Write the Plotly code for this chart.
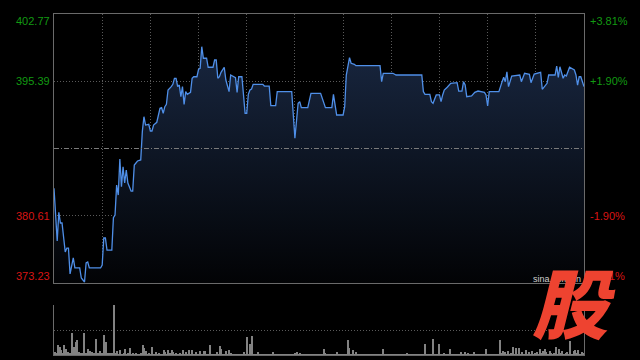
import plotly.graph_objects as go

# ---- data (HK intraday, minutes since 09:30, lunch collapsed: 150 = 12:00/13:00) ----
minutes = [0, 2, 3, 4, 5, 6, 7, 8, 9, 10, 11, 12, 13, 16, 17, 19, 20, 21, 22, 29,
           30, 31, 32, 33, 36, 37, 38, 39, 40, 41, 42, 43, 44, 45, 46, 48, 49, 50, 52, 54,
           55, 56, 57, 58, 59, 60, 61, 62, 64, 66, 67, 68, 69, 70, 71, 73, 74, 75, 76, 77,
           78, 79, 80, 81, 82, 83, 85, 86, 87, 89, 90, 91, 92, 93, 95, 96, 99, 100, 101, 102,
           103, 104, 106, 107, 109, 110, 112, 113, 114, 115, 117, 119, 120, 121, 122, 123, 124, 130, 131, 134,
           135, 138, 139, 148, 150, 151, 152, 153, 154, 158, 160, 166, 168, 169, 173, 174, 176, 180, 181, 182,
           184, 185, 187, 188, 203, 204, 205, 211, 213, 229, 230, 231, 234, 235, 236, 238, 240, 241, 242, 243,
           245, 247, 251, 252, 254, 255, 256, 257, 260, 262, 264, 268, 269, 270, 271, 277, 279, 280, 281, 282,
           283, 285, 290, 291, 293, 296, 297, 299, 303, 304, 307, 308, 312, 313, 314, 315, 317, 318, 319, 321,
           324, 325, 326, 327, 328, 330]
prices = [383.63, 377.84, 380.99, 379.82, 379.82, 378.17, 376.64, 377.07, 377.07, 374.22,
          375.21, 375.98, 374.88, 374.88, 373.78, 373.34, 375.43, 375.54, 374.88, 374.88,
          375.21, 378.17, 378.17, 376.85, 376.85, 380.40, 380.70, 383.99, 382.89, 386.85,
          383.81, 386.00, 384.21, 385.64, 384.21, 383.33, 383.33, 386.19, 386.63, 386.74,
          389.85, 391.49, 390.58, 390.58, 390.66, 389.92, 389.92, 390.58, 390.88, 392.41,
          392.48, 391.87, 392.59, 392.85, 394.42, 394.79, 395.05, 395.71, 395.71, 394.79,
          394.97, 393.69, 394.79, 392.85, 394.24, 393.95, 394.17, 395.71, 395.88, 395.88,
          396.70, 396.81, 399.18, 397.91, 397.91, 396.92, 396.92, 397.72, 397.72, 395.71,
          395.88, 396.37, 396.92, 395.52, 394.24, 396.07, 395.88, 395.78, 394.17, 395.88,
          395.88, 391.87, 391.87, 393.95, 394.42, 394.53, 395.05, 395.05, 394.86, 394.86,
          392.70, 392.70, 394.24, 394.24, 389.12, 390.94, 392.96, 393.14, 392.48, 392.48,
          394.06, 394.06, 392.85, 392.48, 392.48, 393.95, 391.68, 391.68, 392.59, 396.07,
          397.97, 397.36, 397.25, 397.09, 397.09, 395.34, 396.26, 396.26, 396.07, 396.07,
          394.24, 393.95, 393.95, 393.14, 392.96, 393.88, 393.88, 393.14, 393.88, 394.42,
          394.75, 395.16, 395.23, 394.31, 394.31, 395.34, 394.97, 393.69, 393.77, 394.17,
          394.31, 394.17, 393.88, 392.67, 394.24, 394.24, 395.34, 395.82, 395.34, 396.43,
          394.79, 395.96, 396.07, 395.34, 396.26, 396.15, 395.23, 396.18, 396.37, 394.50,
          395.16, 396.07, 396.07, 397.06, 395.82, 396.98, 395.71, 396.07, 395.96, 396.92,
          396.62, 396.07, 394.97, 395.88, 395.88, 394.79]

vol_minutes = list(range(331))
volume = [3, 2, 10, 8, 5, 2, 10, 6, 3, 2,
          2, 22, 8, 13, 15, 3, 2, 2, 22, 2,
          2, 6, 4, 3, 2, 2, 16, 2, 4, 2,
          2, 20, 13, 2, 2, 2, 2, 60, 2, 4,
          1, 5, 1, 2, 6, 1, 2, 7, 1, 2,
          1, 2, 1, 1, 2, 10, 7, 4, 1, 2,
          1, 8, 1, 3, 1, 2, 1, 1, 5, 3,
          1, 5, 2, 5, 3, 1, 2, 1, 2, 1,
          5, 1, 3, 1, 5, 1, 5, 1, 3, 1,
          1, 4, 1, 4, 4, 1, 1, 10, 1, 1,
          1, 3, 1, 9, 6, 1, 1, 4, 1, 5,
          2, 1, 1, 1, 1, 1, 1, 1, 3, 1,
          18, 1, 11, 19, 1, 1, 1, 3, 1, 1,
          1, 1, 1, 1, 1, 1, 3, 1, 1, 1,
          1, 1, 1, 1, 1, 1, 1, 1, 1, 1,
          2, 3, 1, 2, 1, 1, 1, 1, 1, 1,
          1, 1, 1, 1, 1, 1, 1, 1, 6, 2,
          1, 1, 1, 1, 1, 1, 3, 1, 1, 1,
          1, 1, 1, 15, 7, 1, 5, 1, 3, 1,
          1, 1, 1, 1, 1, 1, 1, 1, 1, 1,
          1, 1, 1, 1, 1, 6, 1, 1, 1, 1,
          1, 1, 1, 1, 1, 1, 1, 1, 1, 1,
          2, 1, 1, 1, 1, 1, 1, 1, 1, 1,
          1, 11, 1, 1, 1, 1, 16, 1, 1, 1,
          11, 1, 1, 2, 1, 1, 1, 6, 1, 1,
          1, 1, 1, 1, 3, 1, 3, 1, 2, 1,
          1, 1, 3, 1, 1, 1, 1, 1, 1, 6,
          1, 1, 1, 1, 1, 1, 1, 1, 15, 2,
          4, 3, 1, 4, 1, 2, 8, 1, 7, 1,
          7, 1, 3, 1, 5, 1, 3, 1, 4, 1,
          2, 3, 1, 6, 2, 4, 6, 3, 1, 4,
          2, 1, 2, 8, 1, 6, 2, 4, 1, 2,
          3, 1, 14, 1, 4, 5, 2, 5, 1, 3,
          2]

prev_close = 388.00
price_ticks = [402.77, 395.39, 380.61, 373.23]
pct_ticks = ["+3.81%", "+1.90%", "-1.90%", "-3.81%"]
x_grid = [30, 60, 90, 120, 150, 180, 210, 240, 270, 300]

GREEN = "#129a12"
RED = "#d81414"
GRID = "#5a5a5a"
FRAME = "#6a6a6a"

W, H = 640, 360
x0p, x1p = 54 / W, 584 / W
main_dom = [1 - 283 / H, 1 - 14 / H]
vol_dom = [1 - 355 / H, 1 - 305 / H]

fig = go.Figure()
fig.add_trace(go.Scatter(
    x=minutes, y=prices, mode="lines",
    line=dict(color="#4f8fe8", width=1.3),
    fill="tozeroy",
    fillgradient=dict(type="vertical",
                      colorscale=[[0, "#020305"], [1, "#18263f"]],
                      start=price_ticks[-1], stop=max(prices)),
    xaxis="x", yaxis="y", hoverinfo="skip", showlegend=False))

fig.add_trace(go.Bar(
    x=vol_minutes, y=volume,
    marker=dict(color="#828282", line=dict(width=0)),
    xaxis="x2", yaxis="y2", hoverinfo="skip", showlegend=False))

dotted = "1px,2px"
fig.update_layout(
    width=W, height=H, margin=dict(l=0, r=0, t=0, b=0),
    paper_bgcolor="#000000", plot_bgcolor="rgba(0,0,0,0)",
    bargap=0.35, showlegend=False,
    xaxis=dict(domain=[x0p, x1p], range=[0, 330], anchor="y",
               tickvals=x_grid, showticklabels=False, ticks="",
               showgrid=True, gridcolor=GRID, griddash=dotted, gridwidth=1,
               showline=True, mirror=True, linecolor=FRAME, linewidth=1,
               zeroline=False, fixedrange=True),
    yaxis=dict(domain=main_dom, range=[price_ticks[-1], price_ticks[0]], anchor="x",
               tickvals=[price_ticks[1], price_ticks[2]], showticklabels=False, ticks="",
               showgrid=True, gridcolor=GRID, griddash=dotted, gridwidth=1,
               showline=True, mirror=True, linecolor=FRAME, linewidth=1,
               zeroline=False, fixedrange=True),
    xaxis2=dict(domain=[x0p, x1p], range=[-0.5, 330.5], anchor="y2",
                showticklabels=False, ticks="", showgrid=False,
                showline=True, mirror=False, linecolor=FRAME, linewidth=1,
                zeroline=False, fixedrange=True),
    yaxis2=dict(domain=vol_dom, range=[0, 50], anchor="x2",
                tickvals=[25, 50], showticklabels=False, ticks="",
                showgrid=True, gridcolor=GRID, griddash=dotted, gridwidth=1,
                showline=True, mirror=True, linecolor=FRAME, linewidth=1,
                zeroline=False, fixedrange=True),
)

fig.add_shape(type="line", xref="paper", yref="y", x0=x0p, x1=x1p,
              y0=prev_close, y1=prev_close,
              line=dict(color="#7a7a7a", width=1, dash="5px,2px,1px,2px"))

font_lbl = "Liberation Sans, Arial, sans-serif"
anchors = ["top", "middle", "middle", "bottom"]
colors = [GREEN, GREEN, RED, RED]
for v, pct, ya, c in zip(price_ticks, pct_ticks, anchors, colors):
    fig.add_annotation(x=51 / W, xref="paper", y=v, yref="y", text=f"{v:.2f}",
                       showarrow=False, xanchor="right", yanchor=ya,
                       font=dict(family=font_lbl, size=11, color=c), borderpad=0)
    fig.add_annotation(x=589 / W, xref="paper", y=v, yref="y", text=pct,
                       showarrow=False, xanchor="left", yanchor=ya,
                       font=dict(family=font_lbl, size=11, color=c), borderpad=0)

# watermark
fig.add_annotation(x=531 / W, xref="paper", y=1 - 279 / H, yref="paper", text="sina.com.cn",
                   showarrow=False, xanchor="left", yanchor="middle",
                   font=dict(family=font_lbl, size=9, color="#cfcfcf"))
fig.add_annotation(x=574 / W, xref="paper", y=1 - 300 / H, yref="paper", text="股",
                   showarrow=False, xanchor="center", yanchor="middle",
                   font=dict(family="Noto Sans CJK SC", size=76, color="#ee4330",
                             weight=900, style="italic"))

fig.write_html("out.html")
